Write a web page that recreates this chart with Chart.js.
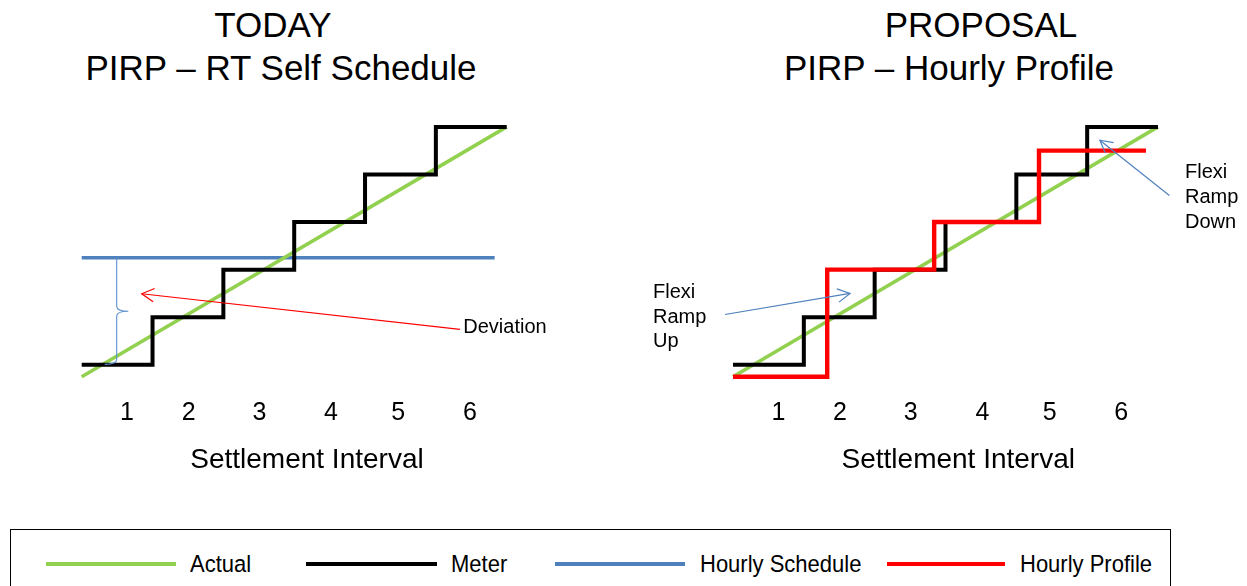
<!DOCTYPE html>
<html>
<head>
<meta charset="utf-8">
<script src="https://cdn.jsdelivr.net/npm/chart.js@4"></script>
<style>
html,body{margin:0;padding:0;background:#fff;width:1247px;height:586px;overflow:hidden;font-family:"Liberation Sans",Arial,sans-serif;}
.t{position:absolute;white-space:nowrap;color:#000;font-size:35px;line-height:40px;width:600px;text-align:center;}
canvas{position:absolute;top:0;}
#c1{left:0;}
#c2{left:623px;}
#legend{position:absolute;left:10px;top:529px;width:1161px;height:80px;border:1px solid #000;box-sizing:border-box;}
.lline{position:absolute;height:4px;}
.ltext{position:absolute;font-size:22px;line-height:26px;white-space:nowrap;color:#000;transform:scaleY(1.08);transform-origin:50% 50%;}
</style>
</head>
<body>
<div id="titles"></div>
<canvas id="c1" width="623" height="520"></canvas>
<canvas id="c2" width="624" height="520"></canvas>
<div id="legend"></div>
<script>
// ---------- data ----------
const leftTitles = ['TODAY', 'PIRP \u2013 RT Self Schedule'];
const rightTitles = ['PROPOSAL', 'PIRP \u2013 Hourly Profile'];
const axisTitle = 'Settlement Interval';
const tickLabels = ['1', '2', '3', '4', '5', '6'];
const tickPositions = [0.64, 1.51, 2.51, 3.52, 4.47, 5.48];

const seriesNames = ['Actual', 'Meter', 'Hourly Schedule', 'Hourly Profile'];

const actualX = [0, 6];
const actualY = [-0.25, 5];
const meterX = [0, 1, 2, 3, 4, 5, 6];
const meterY = [0, 0, 1, 2, 3, 4, 5];
const scheduleX = [0, 5.83];
const scheduleY = [2.25, 2.25];
const profileX = [0, 1.33, 2.84, 4.32, 5.83];
const profileY = [-0.25, -0.25, 2, 3, 4.5];

// annotations (data units)
const deviationArrow = [[5.34, 0.746], [0.847, 1.493]];
const deviationText = ['Deviation'];
const deviationAt = [5.387, 0.82];
const braceX = 0.494, braceTop = 2.25, braceBottom = 0.01, braceTip = [0.658, 1.127];
const rampUpArrow = [[-0.113, 1.057], [1.652, 1.50]];
const rampUpText = ['Flexi', 'Ramp', 'Up'];
const rampUpAt = [-1.129, 1.556];
const rampDownArrow = [[6.161, 3.558], [5.179, 4.72]];
const rampDownText = ['Flexi', 'Ramp', 'Down'];
const rampDownAt = [6.382, 4.07];

// ---------- styles ----------
const FONT = '"Liberation Sans", Arial, sans-serif';
const GREEN = '#92D050', BLACK = '#000000', BLUE = '#4F81BD', RED = '#FF0000';
const seriesColors = [GREEN, BLACK, BLUE, RED];
Chart.defaults.font.family = FONT;
Chart.defaults.color = '#000';

const pts = (xs, ys) => xs.map((x, i) => ({x: x, y: ys[i]}));

// stepped 'after' in Chart.js draws vertical-then-horizontal, so each point
// carries the level of the segment that ends at it
function ds(label, xs, ys, color, width, stepped) {
  return {
    label: label, data: pts(xs, ys), borderColor: color, backgroundColor: color,
    borderWidth: width, pointRadius: 0, tension: 0, stepped: stepped ? 'after' : false,
    borderJoinStyle: 'miter', borderCapStyle: 'butt', fill: false, clip: false
  };
}

function drawArrow(ctx, a, b, color, lw, head) {
  ctx.strokeStyle = color; ctx.lineWidth = lw;
  ctx.beginPath(); ctx.moveTo(a[0], a[1]); ctx.lineTo(b[0], b[1]); ctx.stroke();
  const ang = Math.atan2(b[1] - a[1], b[0] - a[0]);
  ctx.beginPath();
  ctx.moveTo(b[0] - head * Math.cos(ang - 0.5), b[1] - head * Math.sin(ang - 0.5));
  ctx.lineTo(b[0], b[1]);
  ctx.lineTo(b[0] - head * Math.cos(ang + 0.5), b[1] - head * Math.sin(ang + 0.5));
  ctx.stroke();
}

const annotPlugin = {
  id: 'annot',
  afterDatasetsDraw(chart, args, opts) {
    const ctx = chart.ctx, sx = chart.scales.x, sy = chart.scales.y;
    const P = p => [sx.getPixelForValue(p[0]), sy.getPixelForValue(p[1])];
    ctx.save();
    (opts.arrows || []).forEach(a => drawArrow(ctx, P(a.from), P(a.to), a.color, 1.2, 14));
    (opts.texts || []).forEach(t => {
      const p = P(t.at);
      ctx.font = '20px ' + FONT; ctx.fillStyle = '#000';
      ctx.textAlign = 'left'; ctx.textBaseline = 'alphabetic';
      t.lines.forEach((s, i) => ctx.fillText(s, p[0], p[1] + 0.358 * 20 + i * 24.7));
    });
    if (opts.brace) {
      const b = opts.brace;
      const x = sx.getPixelForValue(b.x), yt = sy.getPixelForValue(b.top), yb = sy.getPixelForValue(b.bottom);
      const tip = P(b.tip);
      ctx.strokeStyle = '#5B8FD0'; ctx.lineWidth = 1.1;
      ctx.beginPath();
      ctx.moveTo(x, yt);
      ctx.lineTo(x, tip[1] - 5);
      ctx.quadraticCurveTo(x, tip[1], tip[0], tip[1]);
      ctx.quadraticCurveTo(x, tip[1], x, tip[1] + 5);
      ctx.lineTo(x, yb - 5);
      ctx.quadraticCurveTo(x, yb, x - 12, yb);
      ctx.stroke();
    }
    ctx.restore();
  }
};

function makeOptions(padLeft, padRight, annot) {
  return {
    responsive: false, animation: false, devicePixelRatio: 1, events: [],
    layout: {padding: {left: padLeft, right: padRight, top: 112.6, bottom: 39}},
    plugins: {legend: {display: false}, tooltip: {enabled: false}, annot: annot},
    scales: {
      x: {
        type: 'linear', min: 0, max: 6.36,
        grid: {display: false, drawTicks: false}, border: {display: false},
        afterBuildTicks: s => { s.ticks = tickPositions.map(v => ({value: v})); },
        ticks: {autoSkip: false, maxRotation: 0, padding: 6.7, color: '#000',
                font: {size: 25}, callback: (v, i) => tickLabels[i]},
        title: {display: true, text: axisTitle, color: '#000', font: {size: 28},
                padding: {top: 9, bottom: 4}}
      },
      y: {type: 'linear', display: false, min: -0.55, max: 5.3}
    }
  };
}

// left chart: TODAY
new Chart(document.getElementById('c1'), {
  type: 'line',
  data: {datasets: [
    ds(seriesNames[1], meterX, meterY, BLACK, 4, true),
    ds(seriesNames[0], actualX, actualY, GREEN, 3.6, false),
    ds(seriesNames[2], scheduleX, scheduleY, BLUE, 3.6, false)
  ]},
  options: makeOptions(81.7, 90.8, {
    arrows: [{from: deviationArrow[0], to: deviationArrow[1], color: RED}],
    texts: [{lines: deviationText, at: deviationAt}],
    brace: {x: braceX, top: braceTop, bottom: braceBottom, tip: braceTip}
  }),
  plugins: [annotPlugin]
});

// right chart: PROPOSAL
new Chart(document.getElementById('c2'), {
  type: 'line',
  data: {datasets: [
    ds(seriesNames[3], profileX, profileY, RED, 4.4, true),
    ds(seriesNames[1], meterX, meterY, BLACK, 4, true),
    ds(seriesNames[0], actualX, actualY, GREEN, 3.6, false)
  ]},
  options: makeOptions(110, 63.5, {
    arrows: [{from: rampUpArrow[0], to: rampUpArrow[1], color: BLUE},
             {from: rampDownArrow[0], to: rampDownArrow[1], color: BLUE}],
    texts: [{lines: rampUpText, at: rampUpAt}, {lines: rampDownText, at: rampDownAt}]
  }),
  plugins: [annotPlugin]
});

// titles
(function () {
  const host = document.getElementById('titles');
  const place = (txt, cx, top) => {
    const d = document.createElement('div');
    d.className = 't'; d.textContent = txt;
    d.style.left = (cx - 300) + 'px'; d.style.top = top + 'px';
    host.appendChild(d);
  };
  place(leftTitles[0], 273, 4.5);
  place(leftTitles[1], 281, 47.8);
  place(rightTitles[0], 981, 4.5);
  place(rightTitles[1], 949, 47.8);
})();

// legend
(function () {
  const lg = document.getElementById('legend');
  const lineX = [46, 306, 555, 887], lineW = [130, 131, 130, 118], textX = [190, 451, 700, 1020];
  seriesNames.forEach((name, i) => {
    const l = document.createElement('div');
    l.className = 'lline'; l.style.background = seriesColors[i];
    l.style.left = (lineX[i] - 11) + 'px'; l.style.width = lineW[i] + 'px'; l.style.top = (562 - 530) + 'px';
    lg.appendChild(l);
    const t = document.createElement('div');
    t.className = 'ltext'; t.textContent = name;
    t.style.left = (textX[i] - 11) + 'px'; t.style.top = (550.5 - 530) + 'px';
    lg.appendChild(t);
  });
})();
</script>
</body>
</html>
